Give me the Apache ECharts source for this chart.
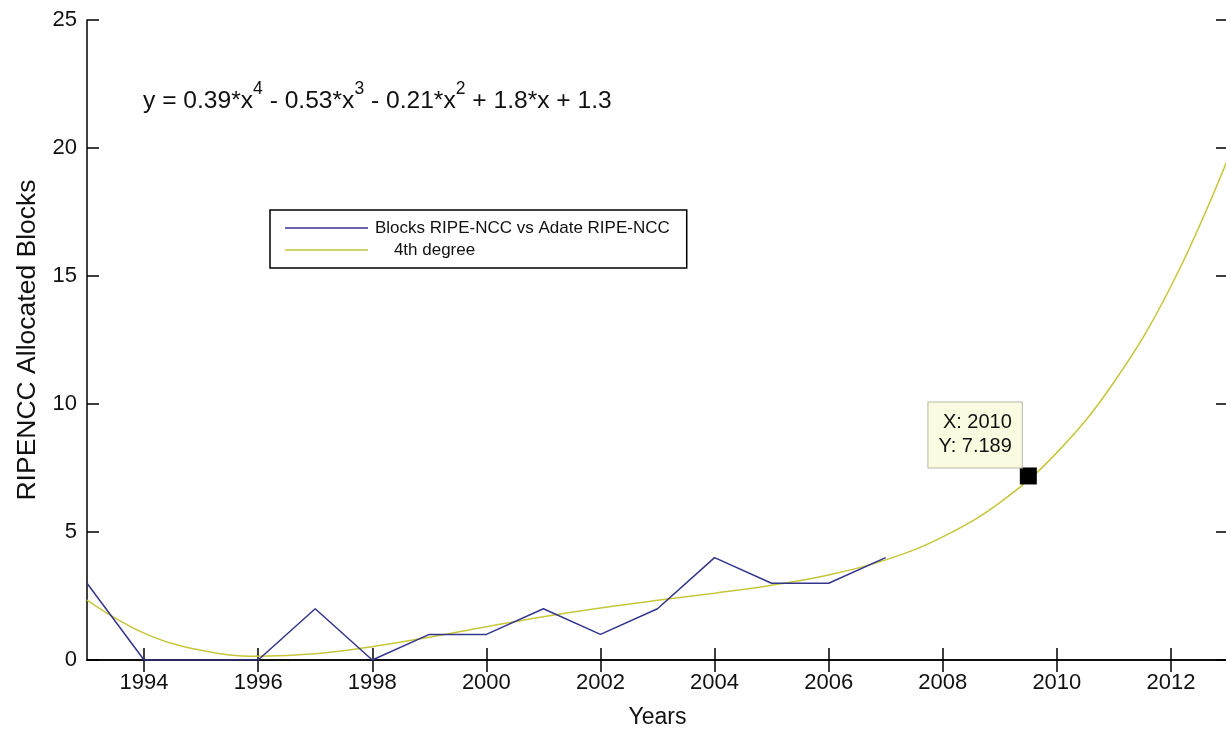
<!DOCTYPE html>
<html>
<head>
<meta charset="utf-8">
<script src="https://cdn.jsdelivr.net/npm/echarts@6/dist/echarts.min.js"></script>
<style>
html,body{margin:0;padding:0;background:#fff;}
#chart{width:1226px;height:731px;}
</style>
</head>
<body>
<div id="chart"></div>
<script>
// Observed data (RIPE-NCC allocated blocks per year)
const years = [1993,1994,1995,1996,1997,1998,1999,2000,2001,2002,2003,2004,2005,2006,2007];
const blocks = [3,0,0,0,2,0,1,1,2,1,2,4,3,3,4];
// 4th degree fit curve
const fitYears = [1993,1994,1995,1996,1997,1998,1999,2000,2001,2002,2003,2004,2005,2006,2007,2008,2009,2010,2011,2012,2013];
const fitValues = [2.34,1.05,0.38,0.15,0.24,0.52,0.89,1.30,1.69,2.03,2.33,2.61,2.92,3.32,3.91,4.81,6.15,8.10,10.85,14.60,19.59];
// Data tip
const tipPoint = [2009.5, 7.189];
const tipText = 'X: 2010\nY: 7.189';
// Ticks
const xTicks = [1994,1996,1998,2000,2002,2004,2006,2008,2010,2012];
const seriesNames = ['Blocks RIPE-NCC vs Adate RIPE-NCC', ' 4th degree'];
const equation = '{n|y = 0.39*x}{s|4}{n| - 0.53*x}{s|3}{n| - 0.21*x}{s|2}{n| + 1.8*x + 1.3}';

const FONT = 'Liberation Sans, Arial, sans-serif';
const chart = echarts.init(document.getElementById('chart'), null, {renderer: 'canvas'});
const axisLine = {show: true, lineStyle: {color: '#000', width: 1.5}};
const tick = {show: true, inside: true, length: 12, lineStyle: {color: '#000', width: 1.5}};

chart.setOption({
  backgroundColor: '#fff',
  animation: false,
  textStyle: {fontFamily: FONT},
  grid: {left: 87, width: 1141, top: 20, height: 640, containLabel: false, outerBoundsMode: 'none'},
  legend: {
    orient: 'vertical', left: 270, top: 210,
    data: seriesNames,
    formatter: name => name === seriesNames[1] ? '    ' + name.trim() : name,
    icon: 'path://M0 0H166V3H0Z',
    itemWidth: 83, itemHeight: 1.5, itemGap: 2,
    padding: [8, 17, 8, 15],
    borderColor: '#000', borderWidth: 1.5, backgroundColor: '#fff',
    textStyle: {fontFamily: FONT, fontSize: 17, color: '#111', lineHeight: 20, padding: [0, 0, 0, 2]},
    selectedMode: false
  },
  xAxis: [{
    type: 'value', min: 1993, max: 2013, position: 'bottom',
    axisLine: axisLine,
    axisTick: Object.assign({customValues: xTicks}, tick),
    axisLabel: {customValues: xTicks, fontSize: 22, color: '#111', margin: 12, fontFamily: FONT,
                formatter: v => String(v)},
    splitLine: {show: false},
    name: 'Years', nameLocation: 'middle', nameGap: 46,
    nameTextStyle: {fontSize: 23, color: '#111', fontFamily: FONT}
  }, {
    type: 'value', min: 1993, max: 2013, position: 'top',
    axisLine: axisLine,
    axisTick: Object.assign({customValues: xTicks}, tick),
    axisLabel: {show: false},
    splitLine: {show: false}
  }],
  yAxis: [{
    type: 'value', min: 0, max: 25, interval: 5, position: 'left',
    axisLine: axisLine, axisTick: tick,
    axisLabel: {fontSize: 22, color: '#111', margin: 10, fontFamily: FONT},
    splitLine: {show: false},
    name: 'RIPENCC Allocated Blocks', nameLocation: 'middle', nameGap: 45,
    nameTextStyle: {fontSize: 26.5, color: '#111', fontFamily: FONT}
  }, {
    type: 'value', min: 0, max: 25, interval: 5, position: 'right',
    axisLine: axisLine, axisTick: tick,
    axisLabel: {show: false},
    splitLine: {show: false}
  }],
  graphic: [{
    type: 'text', left: 143, top: 80,
    style: {
      text: equation, fontFamily: FONT,
      rich: {
        n: {fontSize: 24.6, fill: '#111', fontFamily: FONT, verticalAlign: 'bottom', lineHeight: 34},
        s: {fontSize: 17.5, fill: '#111', fontFamily: FONT, verticalAlign: 'top', lineHeight: 34, padding: [0,0,12,0]}
      }
    }
  }],
  series: [{
    name: seriesNames[0], type: 'line',
    data: years.map((y, i) => [y, blocks[i]]),
    symbol: 'none', lineStyle: {color: '#35358c', width: 1.5}, itemStyle: {color: '#35358c'},
    z: 3
  }, {
    name: seriesNames[1], type: 'line',
    data: fitYears.map((y, i) => [y, fitValues[i]]),
    symbol: 'none', smooth: 0.4, lineStyle: {color: '#c6c63c', width: 1.5}, itemStyle: {color: '#c6c63c'},
    z: 2
  }, {
    type: 'scatter', data: [tipPoint],
    symbol: 'rect', symbolSize: 17, itemStyle: {color: '#000', opacity: 1},
    z: 5,
    label: {
      show: true, position: [2, 0], align: 'right', verticalAlign: 'bottom',
      formatter: tipText, fontSize: 20, color: '#111', fontFamily: FONT, lineHeight: 24,
      backgroundColor: '#fbfbe2', borderColor: '#b8b8a8', borderWidth: 1,
      padding: [8, 10, 9, 10]
    }
  }]
});
</script>
</body>
</html>
